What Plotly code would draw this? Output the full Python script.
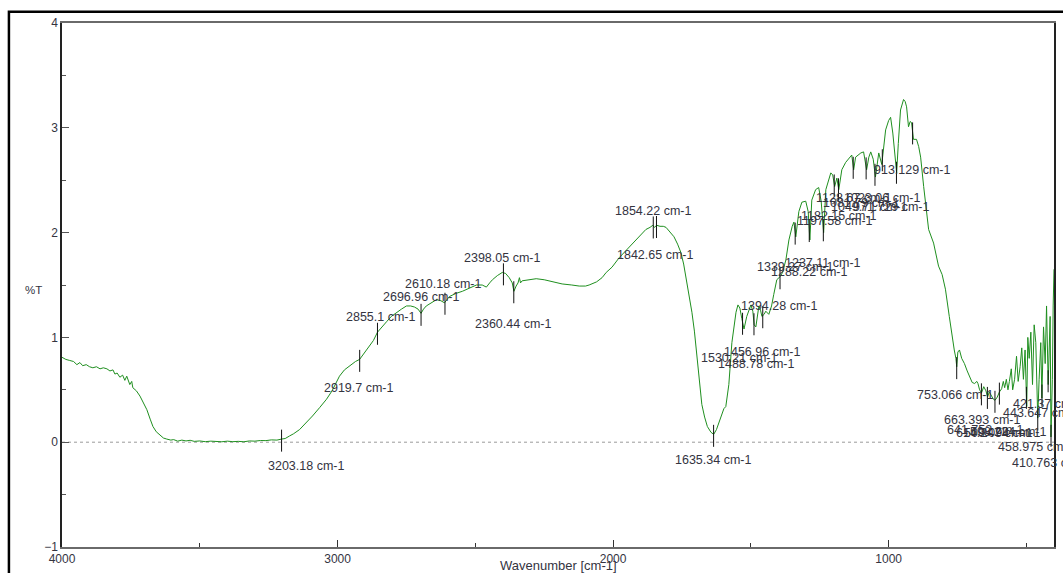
import numpy as np
import plotly.graph_objects as go

# FTIR spectrum: wavenumber [cm-1] vs %T
wavenumber = [
    4000, 3986, 3972, 3958, 3946, 3935, 3925, 3912, 3900, 3888, 3875, 3862, 3850, 3837,
    3826, 3815, 3808, 3800, 3790, 3780, 3772, 3765, 3754, 3747, 3743, 3730, 3717, 3705,
    3692, 3680, 3670, 3658, 3645, 3632, 3620, 3605, 3595, 3580, 3565, 3550, 3535, 3520,
    3500, 3480, 3460, 3440, 3420, 3400, 3380, 3360, 3340, 3320, 3300, 3280, 3260, 3240,
    3220, 3203, 3190, 3174, 3160, 3138, 3115, 3091, 3065, 3040, 3020, 3004, 2993, 2975,
    2955, 2935, 2920, 2900, 2884, 2870, 2855, 2840, 2822, 2805, 2786, 2768, 2750, 2735,
    2721, 2708, 2697, 2688, 2678, 2660, 2641, 2625, 2612, 2594, 2570, 2547, 2520, 2496,
    2475, 2460, 2448, 2438, 2420, 2402, 2390, 2377, 2366, 2360, 2352, 2345, 2340, 2336,
    2330, 2300, 2279, 2250, 2220, 2185, 2150, 2123, 2100, 2087, 2060, 2040, 2025, 2004,
    1978, 1953, 1930, 1917, 1900, 1881, 1866, 1856, 1850, 1842, 1830, 1818, 1808, 1795,
    1779, 1766, 1754, 1744, 1736, 1725, 1714, 1705, 1699, 1688, 1678, 1668, 1658, 1645,
    1635, 1625, 1616, 1605, 1598, 1591, 1580, 1569, 1560, 1554, 1547, 1540, 1533, 1525,
    1515, 1500, 1493, 1488, 1482, 1476, 1471, 1465, 1460, 1452, 1446, 1435, 1425, 1417,
    1406, 1394, 1385, 1373, 1362, 1350, 1344, 1337, 1326, 1315, 1301, 1292, 1286, 1279,
    1265, 1254, 1245, 1236, 1228, 1210, 1203, 1196, 1188, 1181, 1170, 1156, 1145, 1134,
    1127, 1120, 1101, 1091, 1080, 1072, 1065, 1056, 1048, 1036, 1025, 1018, 1011, 1000,
    993, 985, 977, 971, 965, 957, 946, 940, 935, 928, 922, 917, 910, 899,
    891, 884, 873, 855, 837, 819, 806, 794, 780, 770, 762, 756, 753, 749,
    743, 735, 725, 715, 705, 697, 688, 680, 676, 670, 663, 655, 647, 641,
    635, 628, 620, 614, 606, 598, 590, 584, 579, 573, 567, 562, 555, 550,
    543, 536, 530, 523, 517, 511, 505, 499, 495, 490, 484, 478, 472, 466,
    459, 454, 448, 444, 438, 432, 427, 421, 417, 414, 411, 406, 403, 400,
]
transmittance = [
    0.81, 0.79, 0.78, 0.77, 0.74, 0.76, 0.73, 0.74, 0.72, 0.71, 0.72, 0.70, 0.71, 0.70,
    0.68, 0.69, 0.65, 0.66, 0.62, 0.64, 0.59, 0.63, 0.55, 0.58, 0.52, 0.49, 0.44, 0.37,
    0.31, 0.22, 0.15, 0.10, 0.07, 0.04, 0.03, 0.02, 0.025, 0.01, 0.02, 0.012, 0.018, 0.008,
    0.012, 0.005, 0.01, 0.006, 0.004, 0.01, 0.005, 0.008, 0.004, 0.012, 0.01, 0.016, 0.015, 0.022,
    0.02, 0.03, 0.035, 0.06, 0.08, 0.12, 0.18, 0.25, 0.33, 0.41, 0.49, 0.57, 0.63, 0.69,
    0.73, 0.77, 0.79, 0.86, 0.91, 0.97, 1.05, 1.10, 1.15, 1.20, 1.24, 1.27, 1.30, 1.30,
    1.29, 1.27, 1.23, 1.27, 1.30, 1.33, 1.36, 1.35, 1.33, 1.39, 1.42, 1.44, 1.47, 1.50,
    1.50, 1.48, 1.52, 1.55, 1.59, 1.62, 1.61, 1.57, 1.52, 1.44, 1.49, 1.52, 1.57, 1.52,
    1.54, 1.55, 1.56, 1.55, 1.53, 1.51, 1.50, 1.49, 1.49, 1.50, 1.53, 1.57, 1.62, 1.67,
    1.76, 1.83, 1.90, 1.93, 1.98, 2.03, 2.05, 2.07, 2.05, 2.07, 2.06, 2.06, 2.05, 2.01,
    1.96, 1.89, 1.81, 1.70, 1.58, 1.43, 1.24, 1.06, 0.91, 0.60, 0.36, 0.24, 0.15, 0.095,
    0.075, 0.12, 0.19, 0.28, 0.32, 0.34, 0.55, 0.95, 1.12, 1.24, 1.31, 1.28, 1.18, 1.08,
    1.20, 1.31, 1.25, 1.12, 1.10, 1.22, 1.30, 1.26, 1.20, 1.22, 1.25, 1.22, 1.30, 1.41,
    1.55, 1.58, 1.62, 1.74, 1.93, 2.06, 2.10, 1.96, 2.20, 2.29, 2.30, 2.20, 1.93, 2.31,
    2.41, 2.43, 2.30, 2.00, 2.41, 2.57, 2.55, 2.44, 2.52, 2.41, 2.60, 2.67, 2.71, 2.74,
    2.60, 2.72, 2.76, 2.77, 2.60, 2.72, 2.77, 2.70, 2.53, 2.76, 2.65, 2.85, 2.98, 3.07,
    3.10, 2.95, 2.70, 2.57, 2.85, 3.17, 3.27, 3.25, 3.20, 3.01, 3.06, 3.05, 2.89, 2.89,
    2.82, 2.72, 2.44, 2.03, 1.90, 1.68, 1.60, 1.46, 1.20, 1.00, 0.88, 0.80, 0.72, 0.86,
    0.88, 0.80, 0.75, 0.68, 0.62, 0.57, 0.56, 0.58, 0.56, 0.50, 0.47, 0.53, 0.49, 0.43,
    0.48, 0.45, 0.41, 0.40, 0.43, 0.48, 0.51, 0.58, 0.52, 0.60, 0.50, 0.58, 0.70, 0.50,
    0.60, 0.82, 0.58, 0.72, 0.90, 0.60, 0.88, 0.34, 1.00, 0.80, 1.05, 0.55, 1.12, 0.95,
    0.23, 0.60, 0.95, 0.42, 1.10, 0.75, 1.30, 0.55, 0.85, 1.20, 0.05, 0.60, 1.30, 1.65,
]

# Picked peak positions [cm-1]
peaks = [
    3203.18, 2919.7, 2855.1, 2696.96, 2610.18, 2398.05, 2360.44, 1854.22, 1842.65,
    1635.34, 1530.21, 1488.78, 1456.96, 1394.28, 1339.27, 1288.22, 1237.11, 1197.58,
    1182.15, 1128.67, 1081.79, 1049.71, 1023.06, 971.729, 913.129, 753.066, 663.393,
    641.752, 614.247, 598.224, 500.094, 458.975, 443.647, 421.37, 410.763,
]

# Label placement (data units) and anchor for each peak label
label_pos = [
    (3116, -0.23, "center"), (2924, 0.52, "center"), (2844, 1.19, "center"),
    (2699, 1.39, "center"), (2616, 1.51, "center"), (2402, 1.76, "center"),
    (2362, 1.13, "center"), (1855, 2.21, "center"), (1848, 1.79, "center"),
    (1638, -0.17, "center"), (1544, 0.80, "center"), (1482, 0.75, "center"),
    (1460, 0.86, "center"), (1398, 1.30, "center"), (1341, 1.67, "center"),
    (1290, 1.62, "center"), (1239, 1.71, "center"), (1196, 2.11, "center"),
    (1181, 2.16, "center"), (1127, 2.33, "center"), (1102, 2.28, "center"),
    (1071, 2.24, "center"), (1025, 2.33, "center"), (990, 2.24, "center"),
    (917, 2.60, "center"), (758, 0.45, "center"), (663, 0.21, "center"),
    (649, 0.12, "center"), (616, 0.085, "center"), (567, 0.10, "center"),
    (590, 0.085, "center"), (998, -0.05, "left"), (1003, 0.28, "left"),
    (1013, 0.36, "left"), (1012, -0.20, "left"),
]

label_font = dict(family="Liberation Sans, Arial, sans-serif", size=12.5, color="#34343f")

x_desc = np.array(wavenumber, dtype=float)
y_desc = np.array(transmittance, dtype=float)
order = np.argsort(x_desc)
peak_y = np.interp(peaks, x_desc[order], y_desc[order])

fig = go.Figure()

# Spectrum
fig.add_trace(go.Scatter(
    x=wavenumber, y=transmittance, mode="lines",
    line=dict(color="#1f8f1f", width=1), hoverinfo="skip", showlegend=False,
))

# Peak marker ticks
tx, ty = [], []
for p, yv in zip(peaks, peak_y):
    tx += [p, p, None]
    ty += [yv - 0.12, yv + 0.09, None]
fig.add_trace(go.Scatter(
    x=tx, y=ty, mode="lines", line=dict(color="#111111", width=1),
    hoverinfo="skip", showlegend=False,
))

# Peak labels
px_to_paper = 1.0 / 994.0
for p, (lx, ly, anchor) in zip(peaks, label_pos):
    if anchor == "left":
        fig.add_annotation(
            xref="paper", yref="y", x=(lx - 62) * px_to_paper, y=ly,
            text=f"{p:g} cm-1", showarrow=False, xanchor="left", yanchor="middle",
            font=label_font,
        )
    else:
        fig.add_annotation(
            x=lx, y=ly, text=f"{p:g} cm-1", showarrow=False,
            xanchor="center", yanchor="middle", font=label_font,
        )

# Y title and X title
fig.add_annotation(xref="paper", yref="y", x=-0.029, y=1.45, text="%T", showarrow=False,
                   xanchor="center", yanchor="middle",
                   font=dict(family="Liberation Sans, Arial, sans-serif", size=11.5, color="#34343f"))
fig.add_annotation(xref="paper", yref="paper", x=0.501, y=-0.036, text="Wavenumber [cm-1]",
                   showarrow=False, xanchor="center", yanchor="middle",
                   font=dict(family="Liberation Sans, Arial, sans-serif", size=13, color="#34343f"))

# Dotted zero line
fig.add_shape(type="line", xref="paper", yref="y", x0=0, x1=1, y0=0, y1=0,
              line=dict(color="#9a9a9a", width=1, dash="dot"), layer="below")

# Outer frame
fig.add_shape(type="rect", xref="paper", yref="paper",
              x0=-0.0535, x1=1.2, y0=-0.2, y1=1.0215,
              line=dict(color="#000000", width=2.5), fillcolor="rgba(0,0,0,0)")

tick_font = dict(family="Liberation Sans, Arial, sans-serif", size=12, color="#34343f")

fig.update_xaxes(
    range=[4000, 400], tickvals=[4000, 3000, 2000, 1000, 400],
    ticktext=["4000", "3000", "2000", "1000", "400"],
    ticks="inside", ticklen=7, tickcolor="#333333", tickwidth=1,
    minor=dict(tickvals=[3500, 2500, 1500, 500], ticks="inside", ticklen=4, tickcolor="#333333"),
    showline=True, linecolor="#6a6a6a", linewidth=1.5, mirror=True,
    showgrid=False, zeroline=False, tickfont=tick_font,
)
fig.update_yaxes(
    range=[-1, 4], tickvals=[-1, 0, 1, 2, 3, 4],
    ticks="inside", ticklen=7, tickcolor="#555555", tickwidth=1,
    minor=dict(tickvals=[-0.5, 0.5, 1.5, 2.5, 3.5], ticks="inside", ticklen=4, tickcolor="#555555"),
    showline=True, linecolor="#222222", linewidth=1.5, mirror=True,
    showgrid=False, zeroline=False, tickfont=tick_font,
)

fig.update_layout(
    width=1063, height=573,
    margin=dict(l=62, r=7, t=23, b=25),
    plot_bgcolor="white", paper_bgcolor="white",
    font=dict(family="Liberation Sans, Arial, sans-serif"),
)

fig.write_html("out.html")
